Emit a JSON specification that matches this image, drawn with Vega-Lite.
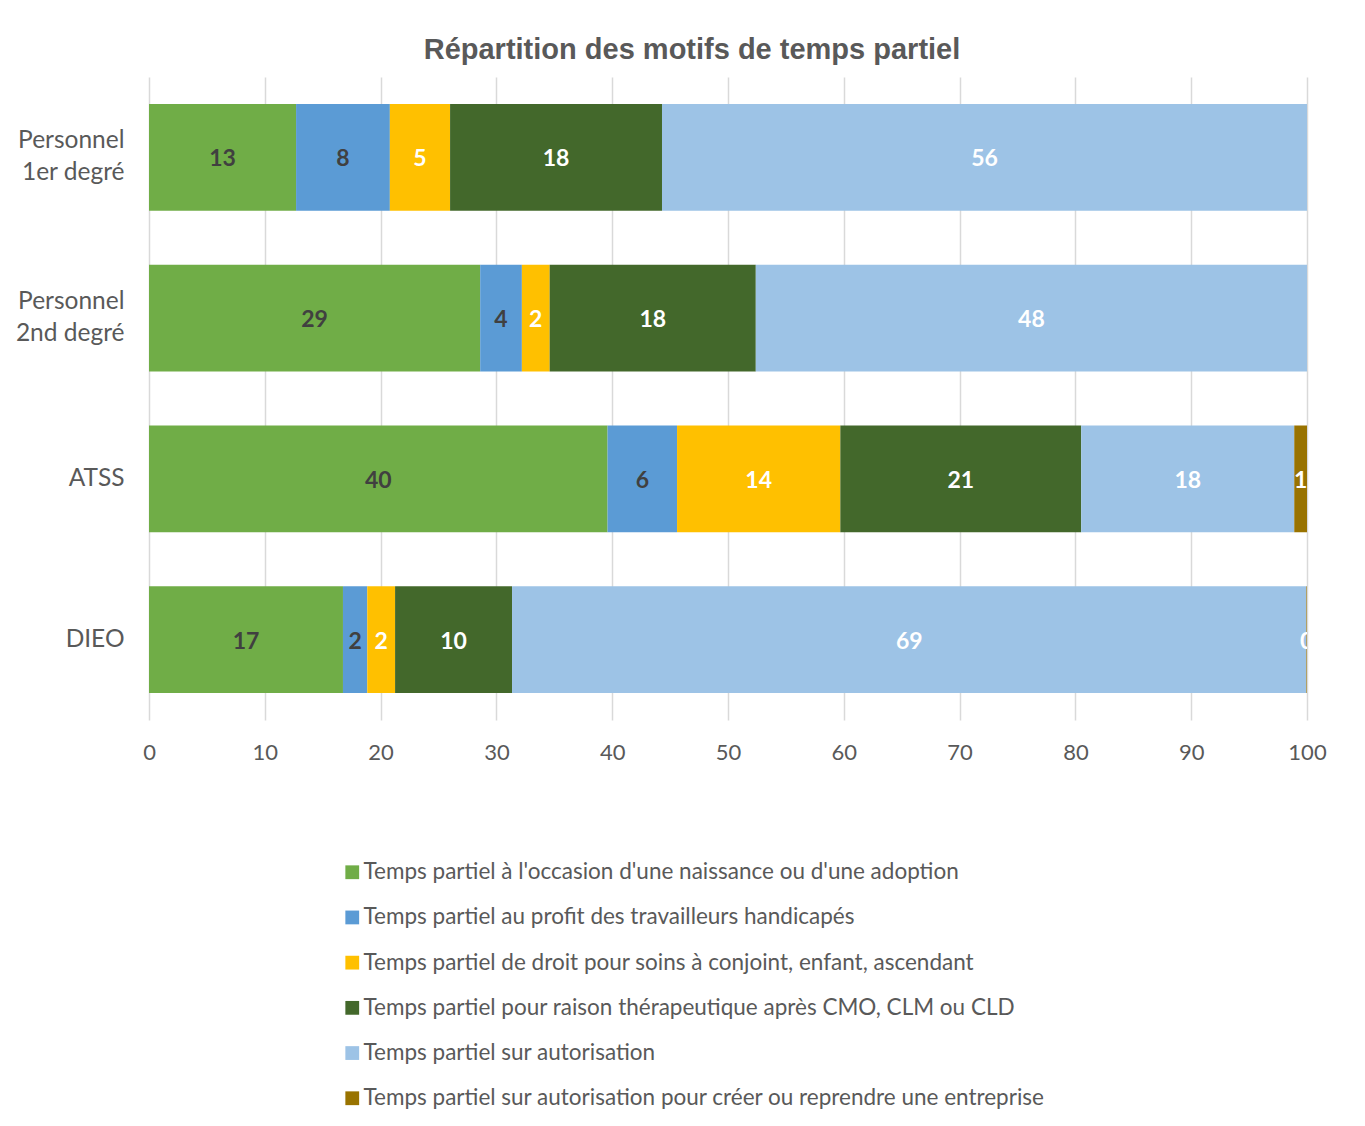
{
  "$schema": "https://vega.github.io/schema/vega-lite/v6.json",
  "width": 1158,
  "height": 643,
  "autosize": {"type": "none"},
  "padding": {"left": 149, "top": 77, "right": 58, "bottom": 406},
  "background": "white",
  "config": {"view": {"stroke": null}},
  "title": {
    "text": "Répartition des motifs de temps partiel",
    "font": "Liberation Sans",
    "fontSize": 29,
    "fontWeight": "bold",
    "color": "#595959",
    "anchor": "middle",
    "dx": -36,
    "offset": 12
  },
  "data": {
    "values": [
      {"categorie": "Personnel|1er degré", "motif": "Temps partiel à l'occasion d'une naissance ou d'une adoption", "ordre": 1, "valeur": 12.7},
      {"categorie": "Personnel|1er degré", "motif": "Temps partiel au profit des travailleurs handicapés", "ordre": 2, "valeur": 8.1},
      {"categorie": "Personnel|1er degré", "motif": "Temps partiel de droit pour soins à conjoint, enfant, ascendant", "ordre": 3, "valeur": 5.2},
      {"categorie": "Personnel|1er degré", "motif": "Temps partiel pour raison thérapeutique après CMO, CLM ou CLD", "ordre": 4, "valeur": 18.3},
      {"categorie": "Personnel|1er degré", "motif": "Temps partiel sur autorisation", "ordre": 5, "valeur": 55.7},
      {"categorie": "Personnel|2nd degré", "motif": "Temps partiel à l'occasion d'une naissance ou d'une adoption", "ordre": 1, "valeur": 28.6},
      {"categorie": "Personnel|2nd degré", "motif": "Temps partiel au profit des travailleurs handicapés", "ordre": 2, "valeur": 3.6},
      {"categorie": "Personnel|2nd degré", "motif": "Temps partiel de droit pour soins à conjoint, enfant, ascendant", "ordre": 3, "valeur": 2.4},
      {"categorie": "Personnel|2nd degré", "motif": "Temps partiel pour raison thérapeutique après CMO, CLM ou CLD", "ordre": 4, "valeur": 17.8},
      {"categorie": "Personnel|2nd degré", "motif": "Temps partiel sur autorisation", "ordre": 5, "valeur": 47.6},
      {"categorie": "ATSS", "motif": "Temps partiel à l'occasion d'une naissance ou d'une adoption", "ordre": 1, "valeur": 39.6},
      {"categorie": "ATSS", "motif": "Temps partiel au profit des travailleurs handicapés", "ordre": 2, "valeur": 6.0},
      {"categorie": "ATSS", "motif": "Temps partiel de droit pour soins à conjoint, enfant, ascendant", "ordre": 3, "valeur": 14.1},
      {"categorie": "ATSS", "motif": "Temps partiel pour raison thérapeutique après CMO, CLM ou CLD", "ordre": 4, "valeur": 20.8},
      {"categorie": "ATSS", "motif": "Temps partiel sur autorisation", "ordre": 5, "valeur": 18.4},
      {"categorie": "ATSS", "motif": "Temps partiel sur autorisation pour créer ou reprendre une entreprise", "ordre": 6, "valeur": 1.1},
      {"categorie": "DIEO", "motif": "Temps partiel à l'occasion d'une naissance ou d'une adoption", "ordre": 1, "valeur": 16.75},
      {"categorie": "DIEO", "motif": "Temps partiel au profit des travailleurs handicapés", "ordre": 2, "valeur": 2.1},
      {"categorie": "DIEO", "motif": "Temps partiel de droit pour soins à conjoint, enfant, ascendant", "ordre": 3, "valeur": 2.4},
      {"categorie": "DIEO", "motif": "Temps partiel pour raison thérapeutique après CMO, CLM ou CLD", "ordre": 4, "valeur": 10.1},
      {"categorie": "DIEO", "motif": "Temps partiel sur autorisation", "ordre": 5, "valeur": 68.6},
      {"categorie": "DIEO", "motif": "Temps partiel sur autorisation pour créer ou reprendre une entreprise", "ordre": 6, "valeur": 0.05}
    ]
  },
  "transform": [
    {"stack": "valeur", "groupby": ["categorie"], "sort": [{"field": "ordre", "order": "ascending"}], "as": ["debut", "fin"]},
    {"calculate": "(datum.debut + datum.fin) / 2", "as": "milieu"}
  ],
  "encoding": {
    "y": {
      "field": "categorie",
      "type": "nominal",
      "sort": ["Personnel|1er degré", "Personnel|2nd degré", "ATSS", "DIEO"],
      "scale": {"paddingInner": 0.335, "paddingOuter": 0.1675},
      "axis": {
        "title": null,
        "domain": false,
        "ticks": false,
        "labelPadding": 25,
        "labelFont": "Lato",
        "labelFontSize": 24.5,
        "labelColor": "#595959",
        "labelLineHeight": 32,
        "labelOffset": {"condition": {"test": "indexof(datum.value, '|') >= 0", "value": -16}, "value": 0},
        "labelExpr": "split(datum.label, '|')"
      }
    }
  },
  "layer": [
    {
      "mark": {"type": "bar"},
      "encoding": {
        "x": {
          "field": "debut",
          "type": "quantitative",
          "scale": {"domain": [0, 100], "nice": false},
          "axis": {
            "title": null,
            "values": [0, 10, 20, 30, 40, 50, 60, 70, 80, 90, 100],
            "grid": true,
            "gridColor": "#d9d9d9",
            "gridWidth": 1.5,
            "domain": false,
            "ticks": false,
            "labelFlush": false,
            "labelPadding": 22,
            "labelFont": "Lato",
            "labelFontSize": 22,
            "labelColor": "#595959"
          }
        },
        "x2": {"field": "fin"},
        "color": {
          "field": "motif",
          "type": "nominal",
          "scale": {
            "domain": [
              "Temps partiel à l'occasion d'une naissance ou d'une adoption",
              "Temps partiel au profit des travailleurs handicapés",
              "Temps partiel de droit pour soins à conjoint, enfant, ascendant",
              "Temps partiel pour raison thérapeutique après CMO, CLM ou CLD",
              "Temps partiel sur autorisation",
              "Temps partiel sur autorisation pour créer ou reprendre une entreprise"
            ],
            "range": ["#70AD47", "#5B9BD5", "#FFC000", "#43682B", "#9DC3E6", "#997300"]
          },
          "legend": {
            "title": null,
            "orient": "none",
            "legendX": 192,
            "legendY": 784,
            "direction": "vertical",
            "symbolType": "square",
            "symbolSize": 190,
            "symbolStrokeWidth": 0,
            "labelFont": "Lato",
            "labelFontSize": 22.5,
            "labelColor": "#595959",
            "labelOffset": 0,
            "labelLimit": 1000,
            "rowPadding": 22.2
          }
        }
      }
    },
    {
      "mark": {"type": "text", "font": "Lato", "fontSize": 23, "fontWeight": "bold", "clip": true, "baseline": "middle", "align": "center", "dy": 2},
      "encoding": {
        "x": {"field": "milieu", "type": "quantitative"},
        "text": {"field": "valeur", "type": "quantitative", "format": ".0f"},
        "color": {
          "condition": {"test": "datum.ordre <= 2", "value": "#404040"},
          "value": "#ffffff"
        }
      }
    }
  ]
}
